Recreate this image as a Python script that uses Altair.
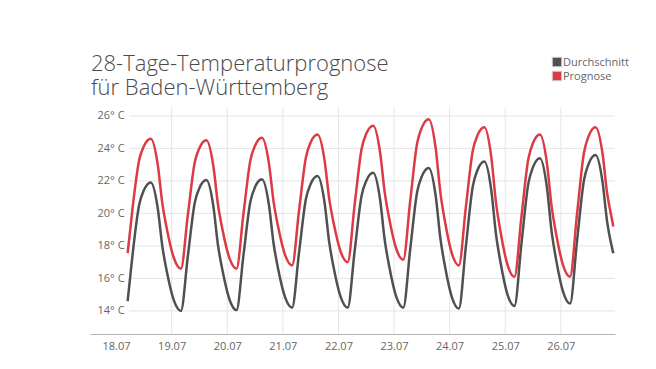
import altair as alt
import pandas as pd

# ---------------- data ----------------
times = [
    "2023-07-18T05:00", "2023-07-18T07:00", "2023-07-18T10:00", "2023-07-18T12:00",
    "2023-07-18T15:00", "2023-07-18T18:00", "2023-07-18T20:00", "2023-07-18T22:00",
    "2023-07-19T01:00", "2023-07-19T04:00", "2023-07-19T07:00", "2023-07-19T10:00", "2023-07-19T12:00",
    "2023-07-19T15:00", "2023-07-19T18:00", "2023-07-19T20:00", "2023-07-19T22:00",
    "2023-07-20T01:00", "2023-07-20T04:00", "2023-07-20T07:00", "2023-07-20T10:00", "2023-07-20T12:00",
    "2023-07-20T15:00", "2023-07-20T18:00", "2023-07-20T20:00", "2023-07-20T22:00",
    "2023-07-21T01:00", "2023-07-21T04:00", "2023-07-21T07:00", "2023-07-21T10:00", "2023-07-21T12:00",
    "2023-07-21T15:00", "2023-07-21T18:00", "2023-07-21T20:00", "2023-07-21T22:00",
    "2023-07-22T01:00", "2023-07-22T04:00", "2023-07-22T07:00", "2023-07-22T10:00", "2023-07-22T12:00",
    "2023-07-22T15:00", "2023-07-22T18:00", "2023-07-22T20:00", "2023-07-22T22:00",
    "2023-07-23T01:00", "2023-07-23T04:00", "2023-07-23T07:00", "2023-07-23T10:00", "2023-07-23T12:00",
    "2023-07-23T15:00", "2023-07-23T18:00", "2023-07-23T20:00", "2023-07-23T22:00",
    "2023-07-24T01:00", "2023-07-24T04:00", "2023-07-24T07:00", "2023-07-24T10:00", "2023-07-24T12:00",
    "2023-07-24T15:00", "2023-07-24T18:00", "2023-07-24T20:00", "2023-07-24T22:00",
    "2023-07-25T01:00", "2023-07-25T04:00", "2023-07-25T07:00", "2023-07-25T10:00", "2023-07-25T12:00",
    "2023-07-25T15:00", "2023-07-25T18:00", "2023-07-25T20:00", "2023-07-25T22:00",
    "2023-07-26T01:00", "2023-07-26T04:00", "2023-07-26T07:00", "2023-07-26T10:00", "2023-07-26T12:00",
    "2023-07-26T15:00", "2023-07-26T18:00", "2023-07-26T20:00", "2023-07-26T22:00",
    "2023-07-26T22:40",
]

prognose = [
    17.55, 20.16, 23.30, 24.14, 24.60, 23.00, 20.60, 19.00,
    17.24, 16.60, 19.92, 23.16, 24.03, 24.50, 22.92, 20.55, 18.97,
    17.23, 16.60, 19.98, 23.28, 24.17, 24.65, 23.08, 20.73, 19.16,
    17.43, 16.80, 20.18, 23.48, 24.37, 24.85, 23.28, 20.93, 19.36,
    17.63, 17.00, 20.53, 23.97, 24.90, 25.40, 23.75, 21.28, 19.63,
    17.81, 17.15, 20.78, 24.33, 25.28, 25.80, 24.00, 21.30, 19.50,
    17.52, 16.80, 20.37, 23.86, 24.79, 25.30, 23.46, 20.70, 18.86,
    16.84, 16.10, 19.78, 23.36, 24.33, 24.85, 23.10, 20.48, 18.73,
    16.80, 16.10, 19.96, 23.74, 24.75, 25.30, 23.70, 21.25, 19.70,
    19.20,
]

durchschnitt = [
    14.60, 17.30, 20.55, 21.42, 21.90, 20.32, 17.95, 16.37,
    14.63, 14.00, 17.38, 20.68, 21.57, 22.05, 20.45, 18.05, 16.45,
    14.69, 14.05, 17.43, 20.73, 21.62, 22.10, 20.52, 18.15, 16.57,
    14.83, 14.20, 17.60, 20.92, 21.81, 22.30, 20.68, 18.25, 16.63,
    14.85, 14.20, 17.69, 21.09, 22.00, 22.50, 20.84, 18.35, 16.69,
    14.86, 14.20, 17.81, 21.34, 22.28, 22.80, 21.07, 18.48, 16.75,
    14.84, 14.15, 17.95, 21.66, 22.66, 23.20, 21.42, 18.75, 16.97,
    15.01, 14.30, 18.12, 21.85, 22.85, 23.40, 21.61, 18.93, 17.14,
    15.17, 14.45, 18.29, 22.04, 23.05, 23.60, 21.96, 19.50, 17.96,
    17.55,
]

series_names = ["Durchschnitt", "Prognose"]
series_colors = ["#505050", "#dc3a44"]

y_ticks = [14, 16, 18, 20, 22, 24, 26]
x_tick_days = [18, 19, 20, 21, 22, 23, 24, 25, 26]
grid_days = ["2023-07-19", "2023-07-20", "2023-07-21", "2023-07-22",
             "2023-07-23", "2023-07-24", "2023-07-25", "2023-07-26"]

title_lines = ["28-Tage-Temperaturprognose", "für Baden-Württemberg"]

# ---------------- tables ----------------
df = pd.concat([
    pd.DataFrame({"Zeit": times, "Temperatur": durchschnitt, "Reihe": "Durchschnitt"}),
    pd.DataFrame({"Zeit": times, "Temperatur": prognose, "Reihe": "Prognose"}),
])
hgrid_df = pd.DataFrame({"y": y_ticks})
vgrid_df = pd.DataFrame({"x": grid_days})
legend_df = pd.DataFrame({"Reihe": series_names})

W, H = 525, 227

x_scale = alt.Scale(domain=[
    alt.DateTime(year=2023, month=7, date=17, hours=12, minutes=45),
    alt.DateTime(year=2023, month=7, date=26, hours=23, minutes=24),
])
y_scale = alt.Scale(domain=[12.58, 26.55], nice=False, zero=False)
color_scale = alt.Scale(domain=series_names, range=series_colors)

x_axis = alt.Axis(
    values=[alt.DateTime(year=2023, month=7, date=d) for d in x_tick_days],
    format="%d.%m",
    grid=False,
    ticks=False,
    domainColor="#b3b3b3",
    domainWidth=1,
    labelFont="Open Sans",
    labelFontSize=11,
    labelColor="#666666",
    labelPadding=6,
    title=None,
)
y_axis = alt.Axis(
    values=y_ticks,
    labelExpr="datum.value + '° C'",
    grid=False,
    domain=False,
    ticks=False,
    tickSize=0,
    labelAlign="left",
    labelPadding=-7,
    labelFont="Open Sans",
    labelFontSize=11,
    labelColor="#666666",
    title=None,
)

hgrid = alt.Chart(hgrid_df).mark_rule(color="#e6e6e6", strokeWidth=1).encode(
    y=alt.Y("y:Q", scale=y_scale, axis=y_axis),
    x=alt.value(39),
    x2=alt.value(W),
)

vgrid = alt.Chart(vgrid_df).mark_rule(color="#e6e6e6", strokeWidth=1).encode(
    x=alt.X("x:T", scale=x_scale, axis=x_axis),
    y=alt.value(0),
    y2=alt.value(H),
)

lines = alt.Chart(df).mark_line(strokeWidth=2.5, interpolate="monotone").encode(
    x=alt.X("Zeit:T", scale=x_scale, axis=x_axis),
    y=alt.Y("Temperatur:Q", scale=y_scale, axis=y_axis),
    color=alt.Color("Reihe:N", scale=color_scale, legend=None),
)

# ---- legend (top right) ----
legend_layers = []
for name, ypos in zip(series_names, [-45, -31]):
    base = alt.Chart(legend_df).transform_filter(alt.datum.Reihe == name)
    legend_layers.append(
        base.mark_square(size=90, opacity=1, stroke="#d0d0d0", strokeWidth=1).encode(
            x=alt.value(467),
            y=alt.value(ypos),
            color=alt.Color("Reihe:N", scale=color_scale, legend=None),
        )
    )
    legend_layers.append(
        base.mark_text(align="left", baseline="middle", font="Open Sans",
                       fontSize=11, color="#666666").encode(
            x=alt.value(473),
            y=alt.value(ypos + 0.5),
            text="Reihe:N",
        )
    )

# ---- title (two lines, top left) ----
title_layers = []
for line, ypos in zip(title_lines, [-36.5, -12]):
    title_layers.append(
        alt.Chart(pd.DataFrame({"t": [line]})).mark_text(
            align="left", baseline="alphabetic", font="Open Sans",
            fontSize=22, fontWeight=300, color="#4a4a4a",
        ).encode(
            x=alt.value(1),
            y=alt.value(ypos),
            text="t:N",
        )
    )

chart = alt.layer(hgrid, vgrid, lines, *legend_layers, *title_layers).properties(
    width=W,
    height=H,
    autosize=alt.AutoSizeParams(type="none"),
    padding={"left": 82, "top": 99, "right": 33, "bottom": 27},
).configure_view(stroke=None)

chart.save("out.html", embed_options={"renderer": "svg", "actions": False})
